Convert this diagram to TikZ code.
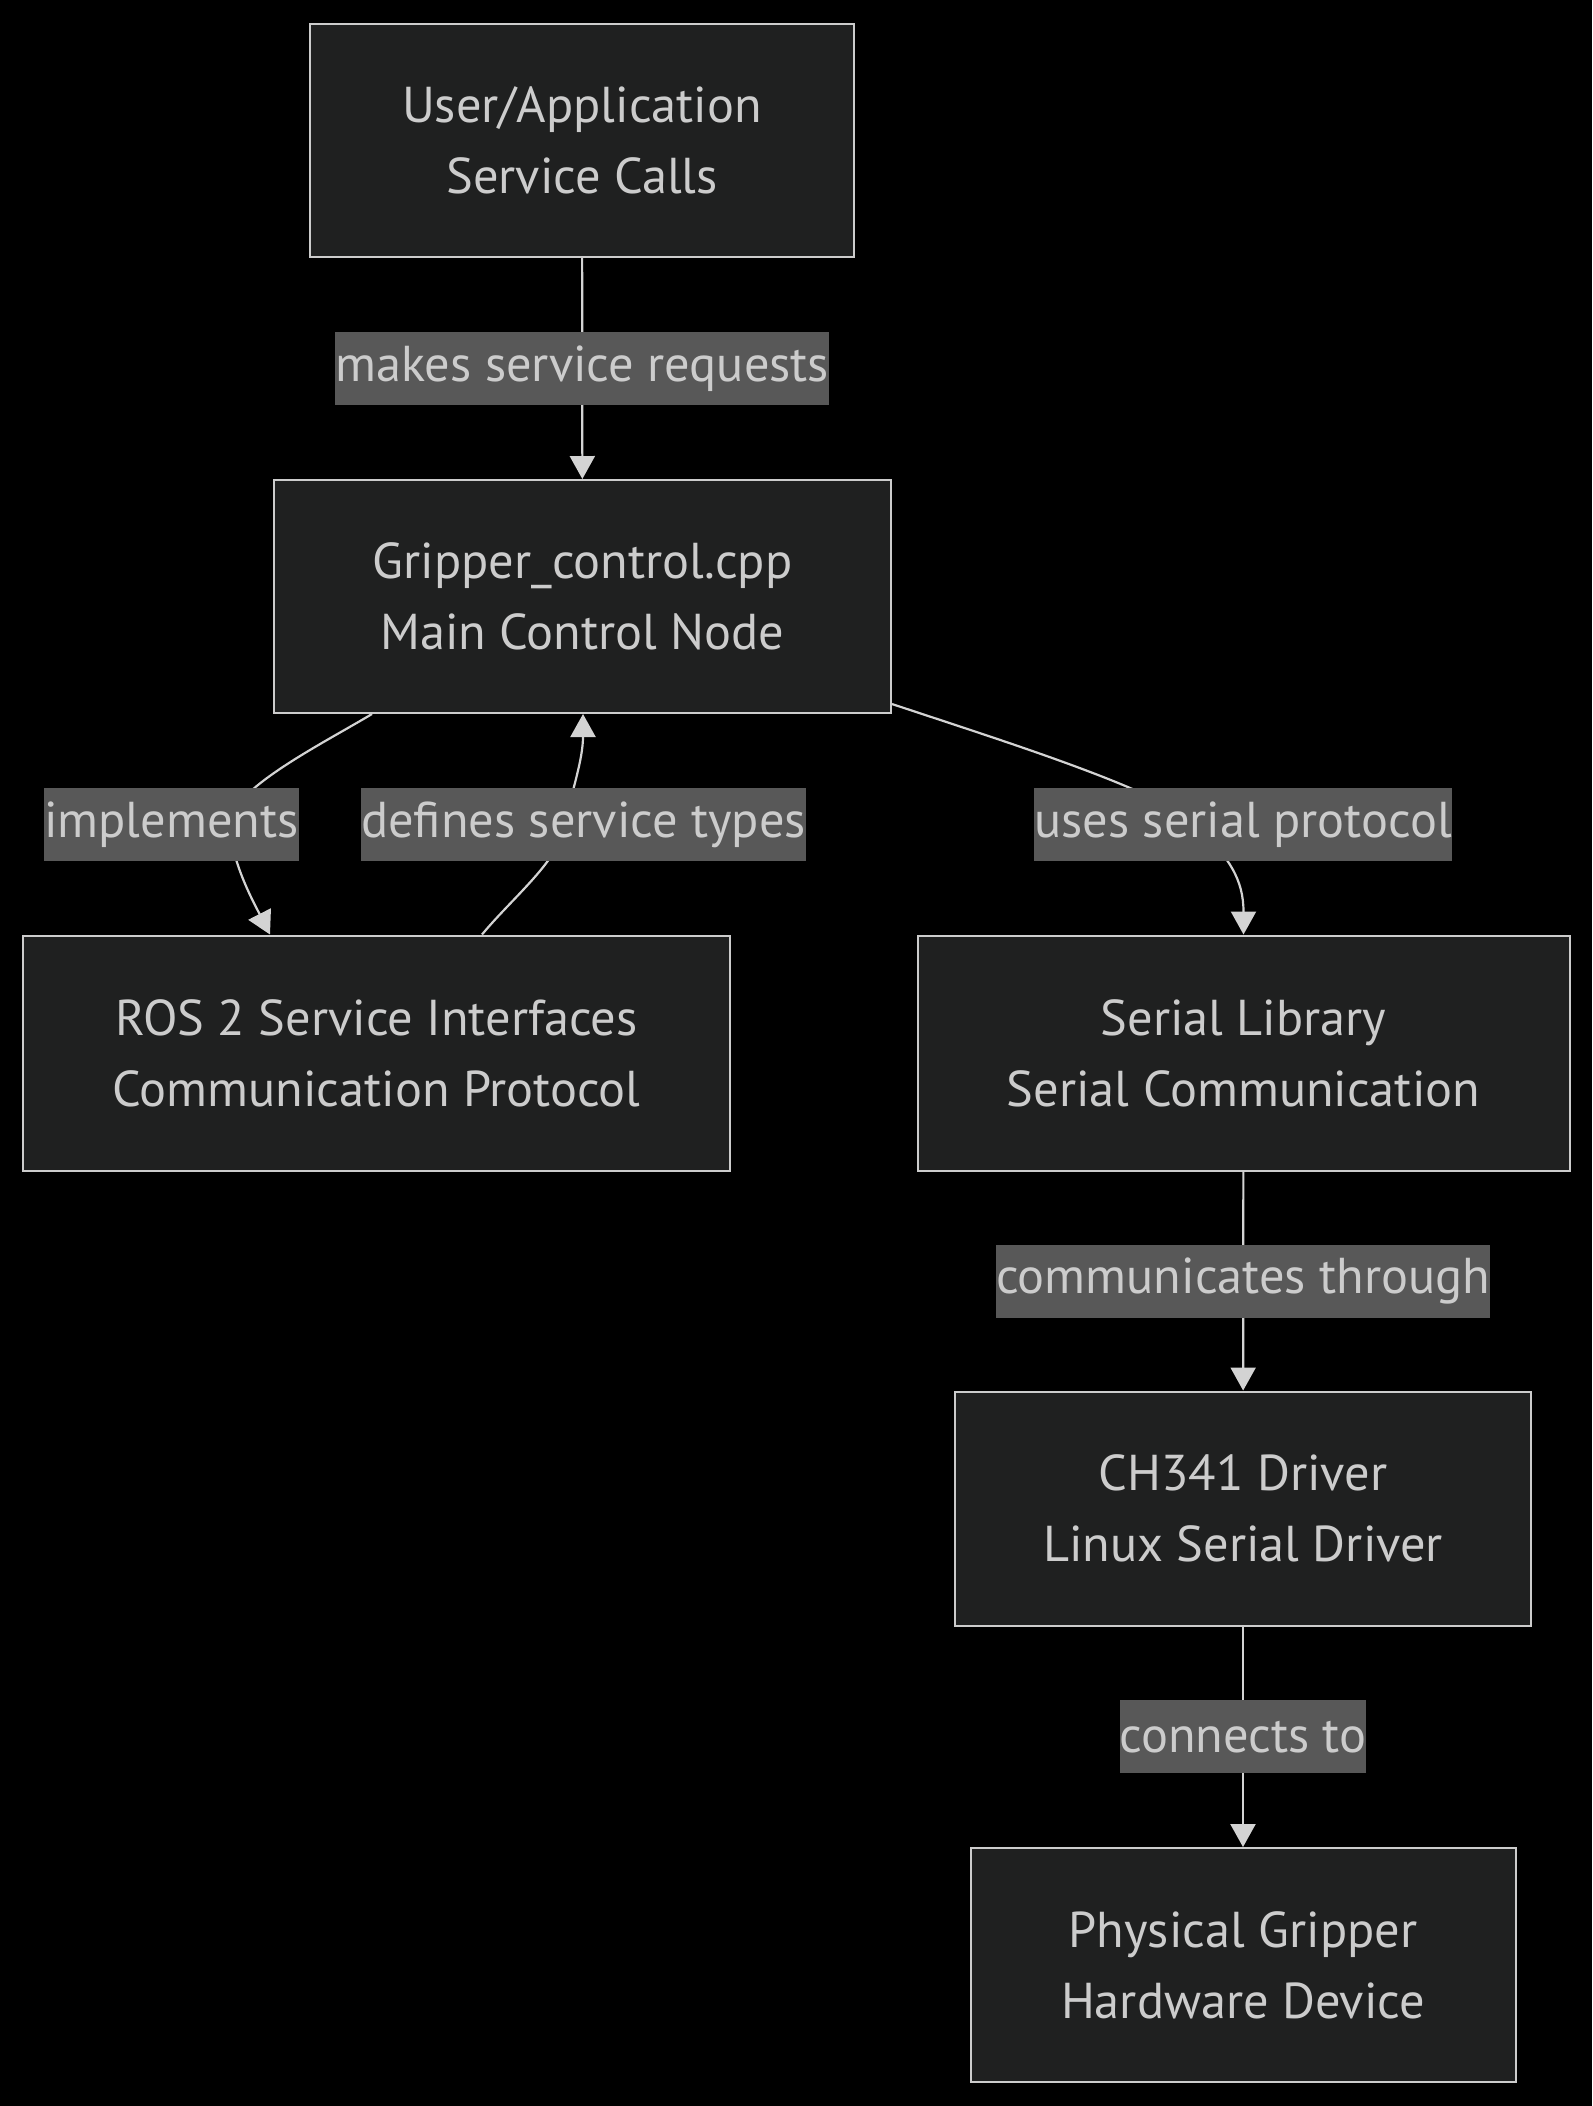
\documentclass[tikz,border=0pt]{standalone}
\usepackage{fontspec}
\setmainfont{PT Sans}
\usetikzlibrary{arrows.meta}
\definecolor{bgc}{HTML}{000000}
\definecolor{boxfill}{HTML}{1F2020}
\definecolor{boxline}{HTML}{CCCCCC}
\definecolor{txt}{HTML}{CCCCCC}
\definecolor{lblfill}{HTML}{585858}
\definecolor{edgec}{HTML}{D3D3D3}
\tikzset{
 box/.style={draw=boxline, fill=boxfill, line width=1pt, text=txt, align=center,
   font=\fontsize{25.2}{35.5}\selectfont, inner sep=0pt},
 lbl/.style={fill=lblfill, text=txt, font=\fontsize{25.2}{28}\selectfont,
   inner xsep=0pt, inner ysep=0pt, minimum height=36.5pt},
 edge/.style={draw=edgec, line width=1.1pt, -{Triangle[length=11.5pt,width=12.5pt]}},
}
\begin{document}
\begin{tikzpicture}[x=0.5pt,y=-0.5pt]
\fill[bgc] (0,0) rectangle (1592,2106);
\useasboundingbox (0,0) rectangle (1592,2106);
\node[box, minimum width=272pt, minimum height=116.5pt] (user) at (582,140.5) {User/Application\\Service Calls};
\node[box, minimum width=308.5pt, minimum height=116.5pt] (grip) at (582.5,596.5) {Gripper\_control.cpp\\Main Control Node};
\node[box, minimum width=353.5pt, minimum height=117.5pt] (ros) at (376.5,1053) {ROS 2 Service Interfaces\\Communication Protocol};
\node[box, minimum width=326pt, minimum height=117.5pt] (ser) at (1243.5,1053) {Serial Library\\Serial Communication};
\node[box, minimum width=288pt, minimum height=117pt] (ch) at (1243,1508.5) {CH341 Driver\\Linux Serial Driver};
\node[box, minimum width=272.5pt, minimum height=117pt] (phy) at (1243,1965) {Physical Gripper\\Hardware Device};
% straight edges
\draw[edge] (user) -- node[lbl] (lmake) {makes service requests} (grip);
\draw[edge] (ser) -- node[lbl] (lcomm) {communicates through} (ch);
\draw[edge] (ch) -- node[lbl] (lconn) {connects to} (phy);
% curved edges
\draw[edge] ([xshift=-105.25pt]grip.south) .. controls (320,745) and (230,790) .. (230,824)
  .. controls (230,860) and (255,905) .. ([xshift=-53.25pt]ros.north);
\draw[edge] ([xshift=52.75pt]ros.north) .. controls (515,895) and (560,860) .. (565,824)
  .. controls (572,790) and (583,760) .. ([xshift=0.25pt]grip.south);
\draw[edge] ([yshift=5pt]grip.south east) .. controls (1000,740) and (1160,790) .. (1195,824)
  .. controls (1230,858) and (1243.5,880) .. (ser.north);
\node[lbl] (limpl) at (171.5,824.5) {implements};
\node[lbl] (ldef) at (583.5,824.5) {defines service types};
\node[lbl] (luse) at (1243,824.5) {uses serial protocol};
\end{tikzpicture}
\end{document}
